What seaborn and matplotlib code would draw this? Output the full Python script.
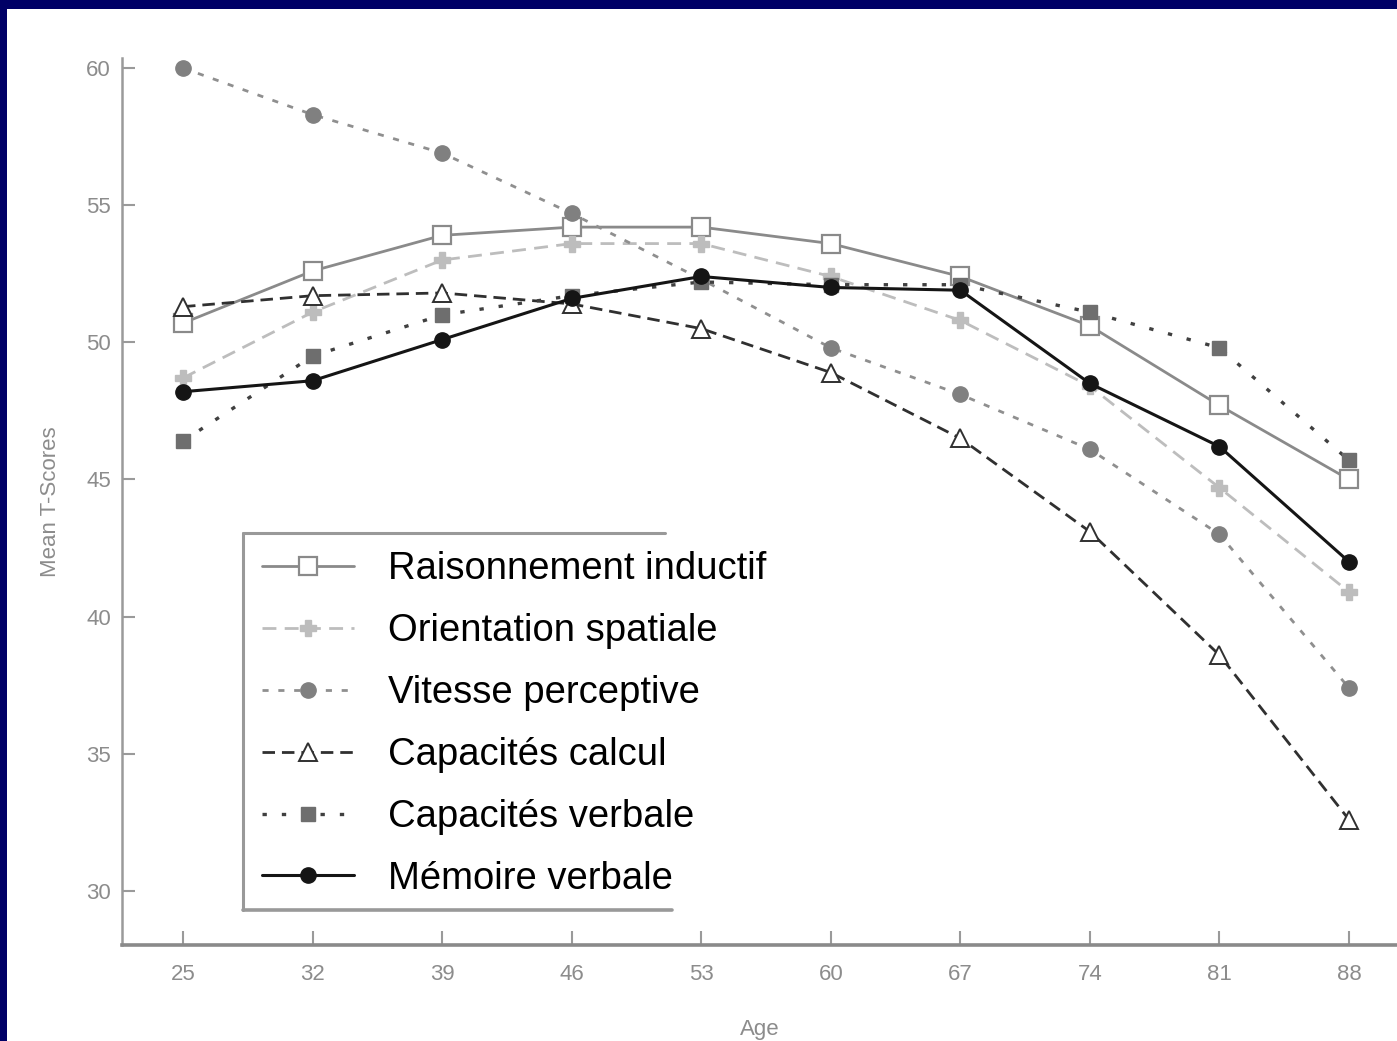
import matplotlib
matplotlib.use("Agg")
import matplotlib.pyplot as plt
from matplotlib.patches import Rectangle
from matplotlib.lines import Line2D
import seaborn as sns

sns.set_style("ticks")
plt.rcParams['font.family'] = ['Liberation Sans', 'DejaVu Sans']

ages = [25, 32, 39, 46, 53, 60, 67, 74, 81, 88]
raisonnement = [50.7, 52.6, 53.9, 54.2, 54.2, 53.6, 52.4, 50.6, 47.7, 45.0]
orientation = [48.7, 51.1, 53.0, 53.6, 53.6, 52.4, 50.8, 48.4, 44.7, 40.9]
vitesse = [60.0, 58.3, 56.9, 54.7, 52.3, 49.8, 48.1, 46.1, 43.0, 37.4]
calcul = [51.3, 51.7, 51.8, 51.4, 50.5, 48.9, 46.5, 43.1, 38.6, 32.6]
verbale = [46.4, 49.5, 51.0, 51.7, 52.2, 52.1, 52.1, 51.1, 49.8, 45.7]
memoire = [48.2, 48.6, 50.1, 51.6, 52.4, 52.0, 51.9, 48.5, 46.2, 42.0]

labels = ["Raisonnement inductif", "Orientation spatiale", "Vitesse perceptive",
          "Capacités calcul", "Capacités verbale", "Mémoire verbale"]
yticks = [30, 35, 40, 45, 50, 55, 60]

W, H = 1397, 1041
fig = plt.figure(figsize=(W / 100, H / 100), dpi=100)
fig.patch.set_facecolor('#000066')
fig.add_artist(Rectangle((7 / W, 0), 1, 1 - 9 / H, transform=fig.transFigure,
                         facecolor='white', edgecolor='none', zorder=-10))

ax = fig.add_axes([122 / W, 1 - 945 / H, 1275 / W, 887 / H])
ax.set_facecolor('white')

styles = [
    dict(data=raisonnement, color='#8a8a8a', linestyle='-', lw=2.0, marker='s',
         ms=13, mfc='white', mec='#8a8a8a', mew=1.6),
    dict(data=orientation, color='#bdbdbd', linestyle=(0, (5, 3)), lw=2.0, marker='P',
         ms=12, mfc='#bdbdbd', mec='#bdbdbd', mew=1.0),
    dict(data=vitesse, color='#8f8f8f', linestyle=(0, (2.2, 3.5)), lw=2.0, marker='o',
         ms=11, mfc='#808080', mec='#808080', mew=1.0),
    dict(data=calcul, color='#303030', linestyle=(0, (4.5, 2.5)), lw=2.0, marker='^',
         ms=13, mfc='white', mec='#303030', mew=1.4),
    dict(data=verbale, color='#404040', linestyle=(0, (1.3, 4.5)), lw=2.4, marker='s',
         ms=10, mfc='#6e6e6e', mec='#6e6e6e', mew=1.0),
    dict(data=memoire, color='#151515', linestyle='-', lw=2.2, marker='o',
         ms=11, mfc='#151515', mec='#151515', mew=1.0),
]

for lab, st in zip(labels, styles):
    sns.lineplot(x=ages, y=st['data'], ax=ax, color=st['color'], linestyle=st['linestyle'],
                 linewidth=st['lw'], marker=st['marker'], markersize=st['ms'],
                 markerfacecolor=st['mfc'], markeredgecolor=st['mec'],
                 markeredgewidth=st['mew'], label=lab, legend=False)

ax.set_xlim(25 - 61 / 18.51, 88 + 48 / 18.51)
ax.set_ylim(30 - 54 / 27.43, 60 + 10 / 27.43)
ax.set_xticks(ages)
ax.set_xticklabels([str(a) for a in ages])
ax.set_yticks(yticks)
ax.set_yticklabels([str(v) for v in yticks])

for s in ['top', 'right']:
    ax.spines[s].set_visible(False)
ax.spines['left'].set_color('#9a9a9a')
ax.spines['left'].set_linewidth(1.8)
ax.spines['bottom'].set_color('#8a8a8a')
ax.spines['bottom'].set_linewidth(2.6)
ax.tick_params(axis='both', direction='in', colors='#9a9a9a', labelcolor='#8c8c8c',
               labelsize=16)
ax.tick_params(axis='y', length=9, width=1.5, pad=8)
ax.tick_params(axis='x', length=10, width=1.5, pad=14)
ax.set_xlabel('Age', color='#8c8c8c', fontsize=16, labelpad=24)
ax.set_ylabel('Mean T-Scores', color='#8c8c8c', fontsize=16, labelpad=18)

handles = ax.get_lines()
leg = ax.legend(handles=handles, labels=labels, loc='upper left',
                bbox_to_anchor=(262 / W, 1 - 551 / H), bbox_transform=fig.transFigure,
                frameon=False, fontsize=27.5, handlelength=2.4, handletextpad=0.9,
                labelspacing=0.68, borderpad=0, borderaxespad=0, numpoints=1)
for t in leg.get_texts():
    t.set_color('black')

# legend box outline (left, top, bottom edges)
box_l, box_r, box_t, box_b = 243, 672, 533, 910
fig.add_artist(Line2D([box_l / W, box_l / W], [1 - box_b / H, 1 - box_t / H],
                      transform=fig.transFigure, color='#999999', lw=2.2, zorder=5))
fig.add_artist(Line2D([box_l / W, 665 / W], [1 - box_t / H, 1 - box_t / H],
                      transform=fig.transFigure, color='#999999', lw=2.2, zorder=5))
fig.add_artist(Line2D([box_l / W, box_r / W], [1 - box_b / H, 1 - box_b / H],
                      transform=fig.transFigure, color='#999999', lw=2.6, zorder=5))

fig.savefig('out.png', dpi=100, facecolor=fig.get_facecolor())
